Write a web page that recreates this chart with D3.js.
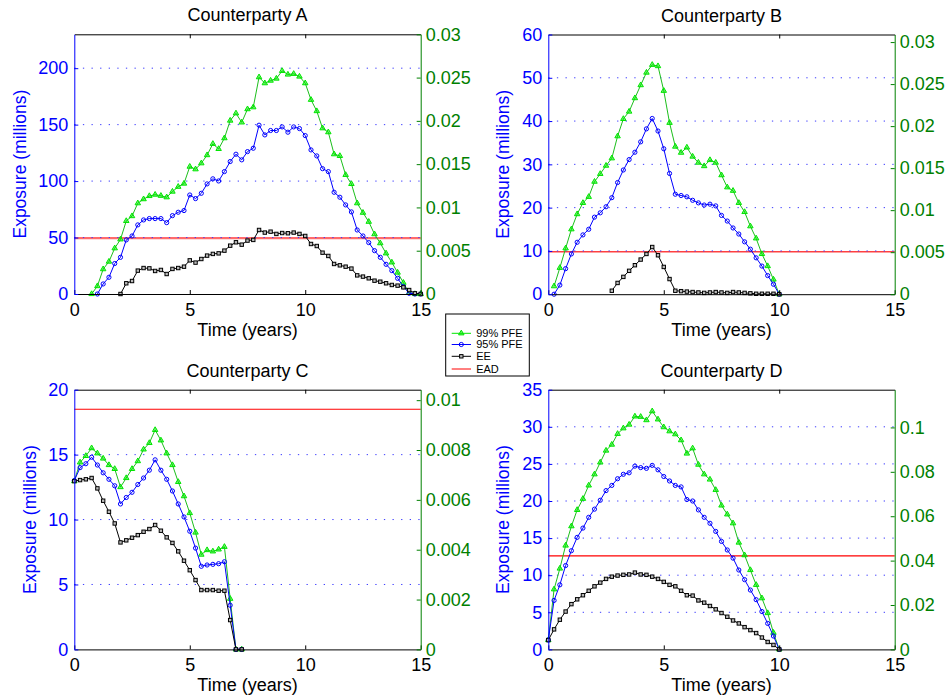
<!DOCTYPE html>
<html>
<head>
<meta charset="utf-8">
<script src="https://cdn.jsdelivr.net/npm/d3@7"></script>
<style>
  body { margin: 0; background: #fff; }
  svg { display: block; font-family: "Liberation Sans", Arial, Helvetica, sans-serif; }
</style>
</head>
<body>
<div id="chart"></div>
<script>
// quarterly time grid (years)
const quarters = [0, 0.25, 0.5, 0.75, 1, 1.25, 1.5, 1.75, 2, 2.25, 2.5, 2.75, 3, 3.25, 3.5, 3.75,
  4, 4.25, 4.5, 4.75, 5, 5.25, 5.5, 5.75, 6, 6.25, 6.5, 6.75, 7, 7.25, 7.5, 7.75,
  8, 8.25, 8.5, 8.75, 9, 9.25, 9.5, 9.75, 10, 10.25, 10.5, 10.75, 11, 11.25, 11.5, 11.75,
  12, 12.25, 12.5, 12.75, 13, 13.25, 13.5, 13.75, 14, 14.25, 14.5, 14.75, 15];

// Counterparty A (millions), null = not plotted
const pfe99A = [null, null, null, 0, 7, 22, 28.7, 40.5, 48.4, 64.7, 69, 80.4, 84, 86.8, 88, 87,
  85.7, 90.7, 95, 97.8, 112.8, 110.5, 115.8, 123, 133, 128.5, 138, 153.6, 160, 152, 163.7, 165.4,
  192, 186.7, 189, 190.8, 197.6, 194.4, 195, 192.6, 186.7, 172, 162, 146.8, 143.3, 123.8, 122.3, 105.5,
  97.5, 80.4, 72, 64, 53, 45, 36, 28, 19, 10, 1, 0, 0];
const pfe95A = [null, null, null, null, 0, 8.9, 14.8, 27, 32.5, 47.9, 51.4, 61.2, 65.6, 66.8, 66.8, 66.8,
  63.2, 69.4, 72.4, 73.9, 87.7, 84.5, 89.2, 97.5, 102, 100.1, 108.4, 117.3, 123.8, 118.8, 126.1, 129.1,
  149.5, 140.9, 144.8, 144.8, 148, 143.3, 148, 146.5, 140.3, 127.6, 122.3, 111, 108.4, 90.1, 85.7, 78.9,
  72.7, 56.7, 51.4, 45.5, 38.4, 32.5, 26.3, 20.7, 13.9, 6.5, 0.6, 0, 0];
const eeA = [null, null, null, null, null, null, null, null, 0, 9.5, 11.5, 20.7, 23, 22.7, 20.4, 21.3,
  17.7, 22.2, 23, 24.2, 29.8, 27.8, 31, 34, 35.5, 36, 38.4, 42.8, 45.8, 43.7, 47.3, 47.9,
  56.7, 54.4, 55.2, 53.2, 54, 53.8, 54.4, 53.2, 51.4, 44.3, 42.5, 36.6, 33.7, 26.6, 25.4, 24.2,
  22.5, 16.5, 15.4, 13.9, 11.8, 10.9, 9.5, 8, 7.4, 5.9, 3.5, 0.6, 0];
const eadA = 49.5;

// Counterparty B
const pfe99B = [null, 1.85, 6.1, 10.6, 15, 18.5, 21.1, 22.5, 26, 27.8, 29.7, 31.4, 36.5, 40.5, 42.2, 45.3,
  48.3, 51.2, 53, 52.7, 47, 39.6, 34.1, 32.7, 33.9, 31.8, 30.4, 29.6, 31, 30.4, 27.5, 24.7,
  23.9, 21.1, 19, 15.7, 12.9, 9.3, 6.5, 3.4, 0];
const pfe95B = [null, 0, 2.1, 5.9, 9.3, 12, 13.7, 15, 17.8, 18.8, 20.2, 22.3, 25.8, 28.7, 31.1, 32.8,
  35.2, 38.2, 40.6, 37.7, 33.6, 27.9, 23.1, 22.8, 22.5, 21.7, 21.1, 20.6, 20.8, 20.4, 18.2, 16.9,
  15.3, 13.9, 12.1, 10.4, 8.4, 6.5, 4.3, 2.3, 0];
const eeB = [null, null, null, null, null, null, null, null, null, null, null, 0.8, 2.6, 4, 5.4, 6.7,
  8, 9.3, 10.9, 9, 6.3, 3.5, 0.8, 0.7, 0.6, 0.5, 0.4, 0.3, 0.4, 0.5, 0.4, 0.3,
  0.5, 0.4, 0.3, 0.2, 0.1, 0.1, 0.1, 0.1, 0];
const eadB = 9.8;

// Counterparty C
const pfe99C = [12.96, 14.4, 14.9, 15.5, 15.1, 14.7, 14.2, 13.9, 12.5, 13.2, 13.9, 14.5, 15.4, 15.9, 16.9, 16.1,
  15.1, 14.2, 12.9, 11.8, 10.5, 9.0, 7.3, 7.65, 7.55, 7.7, 7.9, 3.9, 0, 0];
const pfe95C = [13.0, 14.0, 14.3, 14.8, 14.2, 13.6, 13.1, 12.6, 11.2, 11.7, 12.1, 12.7, 13.2, 13.8, 14.6, 13.8,
  13.1, 12.2, 11.2, 10.2, 9.1, 7.8, 6.4, 6.5, 6.55, 6.6, 6.75, 3.4, 0, 0];
const eeC = [12.96, 13.04, 13.1, 13.2, 12.4, 11.45, 10.6, 9.7, 8.24, 8.4, 8.6, 8.8, 9.06, 9.27, 9.58, 9.14,
  8.63, 8.2, 7.55, 6.83, 6.1, 5.34, 4.57, 4.57, 4.57, 4.52, 4.52, 2.26, 0, 0];
const eadC = 18.5;

// Counterparty D
const pfe99D = [1.26, 8.1, 10.9, 14.0, 16.6, 18.8, 20.3, 22.1, 23.6, 25.2, 26.8, 27.6, 29.05, 29.8, 30.3, 31.4,
  31.35, 30.9, 32.1, 31.0, 29.95, 29.4, 29.0, 28.2, 26.4, 27.1, 24.9, 23.6, 22.9, 21.5, 19.4, 18.2,
  17.0, 14.4, 12.7, 10.7, 8.7, 6.9, 4.9, 2.25, 0];
const pfe95D = [1.26, 6.6, 8.7, 11.3, 13.3, 15.1, 16.35, 17.8, 18.9, 20.1, 21.4, 22.1, 23.0, 23.6, 23.8, 24.7,
  24.5, 24.4, 24.8, 24.2, 23.3, 22.7, 22.1, 21.9, 20.2, 20.0, 18.8, 17.8, 17.0, 15.9, 14.55, 13.4,
  12.3, 10.7, 9.4, 8.0, 6.7, 5.1, 3.5, 1.8, 0];
const eeD = [1.26, 2.7, 4.0, 5.1, 6.1, 6.75, 7.3, 7.9, 8.5, 9.0, 9.5, 9.8, 9.95, 10.05, 10.1, 10.35,
  10.1, 10.05, 9.8, 9.5, 9.1, 8.7, 8.5, 7.9, 7.3, 7.25, 6.6, 6.3, 5.85, 5.4, 4.9, 4.4,
  3.9, 3.5, 3.0, 2.6, 2.2, 1.6, 1.0, 0.6, 0];
const eadD = 12.6;

// axis ticks
const timeTicks = [0, 5, 10, 15];
const leftTicksA = [0, 50, 100, 150, 200];
const leftTicksB = [0, 10, 20, 30, 40, 50, 60];
const leftTicksC = [0, 5, 10, 15, 20];
const leftTicksD = [0, 5, 10, 15, 20, 25, 30, 35];
const rightTicksA = [0, 0.005, 0.01, 0.015, 0.02, 0.025, 0.03];
const rightTicksB = [0, 0.005, 0.01, 0.015, 0.02, 0.025, 0.03];
const rightTicksC = [0, 0.002, 0.004, 0.006, 0.008, 0.01];
const rightTicksD = [0, 0.02, 0.04, 0.06, 0.08, 0.1];

const legendLabels = ["99% PFE", "95% PFE", "EE", "EAD"];

const panels = [
  { title: "Counterparty A", pfe99: pfe99A, pfe95: pfe95A, ee: eeA, ead: eadA,
    leftTicks: leftTicksA, leftMax: 230, rightTicks: rightTicksA, rightMax: 0.03,
    x0: 74.3, y0: 34.3, ylabOff: 54, eadColor: "#ff6b6b", eadWidth: 2.2 },
  { title: "Counterparty B", pfe99: pfe99B, pfe95: pfe95B, ee: eeB, ead: eadB,
    leftTicks: leftTicksB, leftMax: 60, rightTicks: rightTicksB, rightMax: 0.0309,
    x0: 548.3, y0: 34.5, ylabOff: 45, eadColor: "#ff4040", eadWidth: 1.6 },
  { title: "Counterparty C", pfe99: pfe99C, pfe95: pfe95C, ee: eeC, ead: eadC,
    leftTicks: leftTicksC, leftMax: 20, rightTicks: rightTicksC, rightMax: 0.01042,
    x0: 74.3, y0: 389.7, ylabOff: 44, eadColor: "#ff0000", eadWidth: 1.1 },
  { title: "Counterparty D", pfe99: pfe99D, pfe95: pfe95D, ee: eeD, ead: eadD,
    leftTicks: leftTicksD, leftMax: 35, rightTicks: rightTicksD, rightMax: 0.117,
    x0: 548.3, y0: 389.7, ylabOff: 45, eadColor: "#ff0000", eadWidth: 1.1 }
];

const width = 947, height = 697;
const plotW = 346.4, plotH = 259.7;
const fontSize = 18;

const blue = "#0000ff", green = "#008000", lineGreen = "#1cbf1c", markGreen = "#00e600";

const svg = d3.select("#chart").append("svg")
  .attr("width", width)
  .attr("height", height)
  .attr("viewBox", `0 0 ${width} ${height}`);

const fmtRight = d => d === 0 ? "0" : String(+d.toFixed(4));

function drawMarkers(g, pts, kind, color, x, y) {
  if (kind === "circle") {
    g.selectAll("circle").data(pts).join("circle")
      .attr("cx", d => x(d.t)).attr("cy", d => y(d.v)).attr("r", 2.1)
      .attr("fill", "none").attr("stroke", color).attr("stroke-width", 1);
  } else if (kind === "square") {
    g.selectAll("rect").data(pts).join("rect")
      .attr("x", d => x(d.t) - 1.7).attr("y", d => y(d.v) - 1.7)
      .attr("width", 3.4).attr("height", 3.4)
      .attr("fill", "#bbb").attr("stroke", color).attr("stroke-width", 1);
  } else {
    const tri = d3.symbol().type(d3.symbolTriangle).size(13);
    g.selectAll("path").data(pts).join("path")
      .attr("transform", d => `translate(${x(d.t)},${y(d.v)})`)
      .attr("d", tri)
      .attr("fill", color).attr("fill-opacity", 0.55)
      .attr("stroke", color).attr("stroke-width", 1);
  }
}

panels.forEach(p => {
  const g = svg.append("g").attr("transform", `translate(${p.x0},${p.y0})`);

  const x = d3.scaleLinear().domain([0, 15]).range([0, plotW]);
  const y = d3.scaleLinear().domain([0, p.leftMax]).range([plotH, 0]);
  const y2 = d3.scaleLinear().domain([0, p.rightMax]).range([plotH, 0]);

  // EAD level
  g.append("line")
    .attr("x1", x(0)).attr("x2", x(15))
    .attr("y1", y(p.ead)).attr("y2", y(p.ead))
    .attr("stroke", p.eadColor).attr("stroke-width", p.eadWidth);

  // dotted grid on left ticks
  g.append("g").selectAll("line")
    .data(p.leftTicks.filter(v => v > 0 && v < p.leftMax))
    .join("line")
      .attr("x1", 0).attr("x2", plotW)
      .attr("y1", d => y(d)).attr("y2", d => y(d))
      .attr("stroke", "#3c3cff").attr("stroke-width", 1)
      .attr("stroke-dasharray", "1.3,7.3");

  const series = [
    { values: p.pfe99, line: lineGreen, mark: markGreen, kind: "triangle" },
    { values: p.pfe95, line: blue, mark: blue, kind: "circle" },
    { values: p.ee, line: "#000", mark: "#000", kind: "square" }
  ];

  series.forEach(s => {
    const pts = s.values
      .map((v, i) => ({ t: quarters[i], v: v }))
      .filter(d => d.v !== null && d.v !== undefined);
    g.append("path")
      .datum(pts)
      .attr("fill", "none")
      .attr("stroke", s.line)
      .attr("stroke-width", 1)
      .attr("d", d3.line().x(d => x(d.t)).y(d => y(d.v)));
    drawMarkers(g.append("g"), pts, s.kind, s.mark, x, y);
  });

  // axes
  const bottom = g.append("g")
    .attr("transform", `translate(0,${plotH})`)
    .call(d3.axisBottom(x).tickValues(timeTicks).tickSizeInner(-4).tickSizeOuter(0).tickPadding(9));
  const top = g.append("g")
    .call(d3.axisTop(x).tickValues([5, 10]).tickSizeInner(-4).tickSizeOuter(0).tickFormat(""));
  const left = g.append("g")
    .call(d3.axisLeft(y).tickValues(p.leftTicks).tickSizeInner(-4).tickSizeOuter(0).tickPadding(6));
  const right = g.append("g")
    .attr("transform", `translate(${plotW},0)`)
    .call(d3.axisRight(y2).tickValues(p.rightTicks).tickSizeInner(-4).tickSizeOuter(0).tickPadding(5).tickFormat(fmtRight));

  [bottom, top].forEach(a => {
    a.attr("font-size", fontSize).attr("font-family", null);
    a.selectAll("path, line").attr("stroke", "#000");
    a.selectAll("text").attr("fill", "#000");
  });
  left.attr("font-size", fontSize).attr("font-family", null);
  left.selectAll("path, line").attr("stroke", blue);
  left.selectAll("text").attr("fill", blue);
  right.attr("font-size", fontSize).attr("font-family", null);
  right.selectAll("path, line").attr("stroke", green);
  right.selectAll("text").attr("fill", green);

  // texts
  g.append("text")
    .attr("x", plotW / 2).attr("y", -13)
    .attr("text-anchor", "middle").attr("font-size", fontSize)
    .text(p.title);
  g.append("text")
    .attr("x", plotW / 2).attr("y", plotH + 42)
    .attr("text-anchor", "middle").attr("font-size", fontSize)
    .text("Time (years)");
  g.append("text")
    .attr("transform", `translate(${-p.ylabOff},${plotH / 2}) rotate(-90)`)
    .attr("dy", "0.35em")
    .attr("text-anchor", "middle").attr("font-size", 17.5)
    .attr("fill", blue)
    .text("Exposure (millions)");
});

// legend
const legend = svg.append("g").attr("transform", "translate(445.7,314)");
legend.append("rect")
  .attr("width", 83.6).attr("height", 62)
  .attr("fill", "#fff").attr("stroke", "#000").attr("stroke-width", 1);

const legendStyles = [
  { line: markGreen, kind: "triangle" },
  { line: blue, kind: "circle" },
  { line: "#000", kind: "square" },
  { line: "#ff0000", kind: null }
];
const legendY = [19.3, 30.5, 42.3, 55];
legendLabels.forEach((label, i) => {
  const st = legendStyles[i];
  const row = legend.append("g").attr("transform", `translate(0,${legendY[i]})`);
  row.append("line").attr("x1", 6).attr("x2", 25.3).attr("y1", 0).attr("y2", 0)
    .attr("stroke", st.line).attr("stroke-width", 1);
  if (st.kind) {
    const ix = d3.scaleLinear().domain([0, 1]).range([15.6, 16.6]);
    const iy = d3.scaleLinear().domain([0, 1]).range([0, 1]);
    drawMarkers(row.append("g"), [{ t: 0, v: 0 }], st.kind, st.line, ix, iy);
  }
  row.append("text").attr("x", 30.5).attr("dy", "0.35em")
    .attr("font-size", 11).attr("fill", "#000")
    .text(label);
});
</script>
</body>
</html>
